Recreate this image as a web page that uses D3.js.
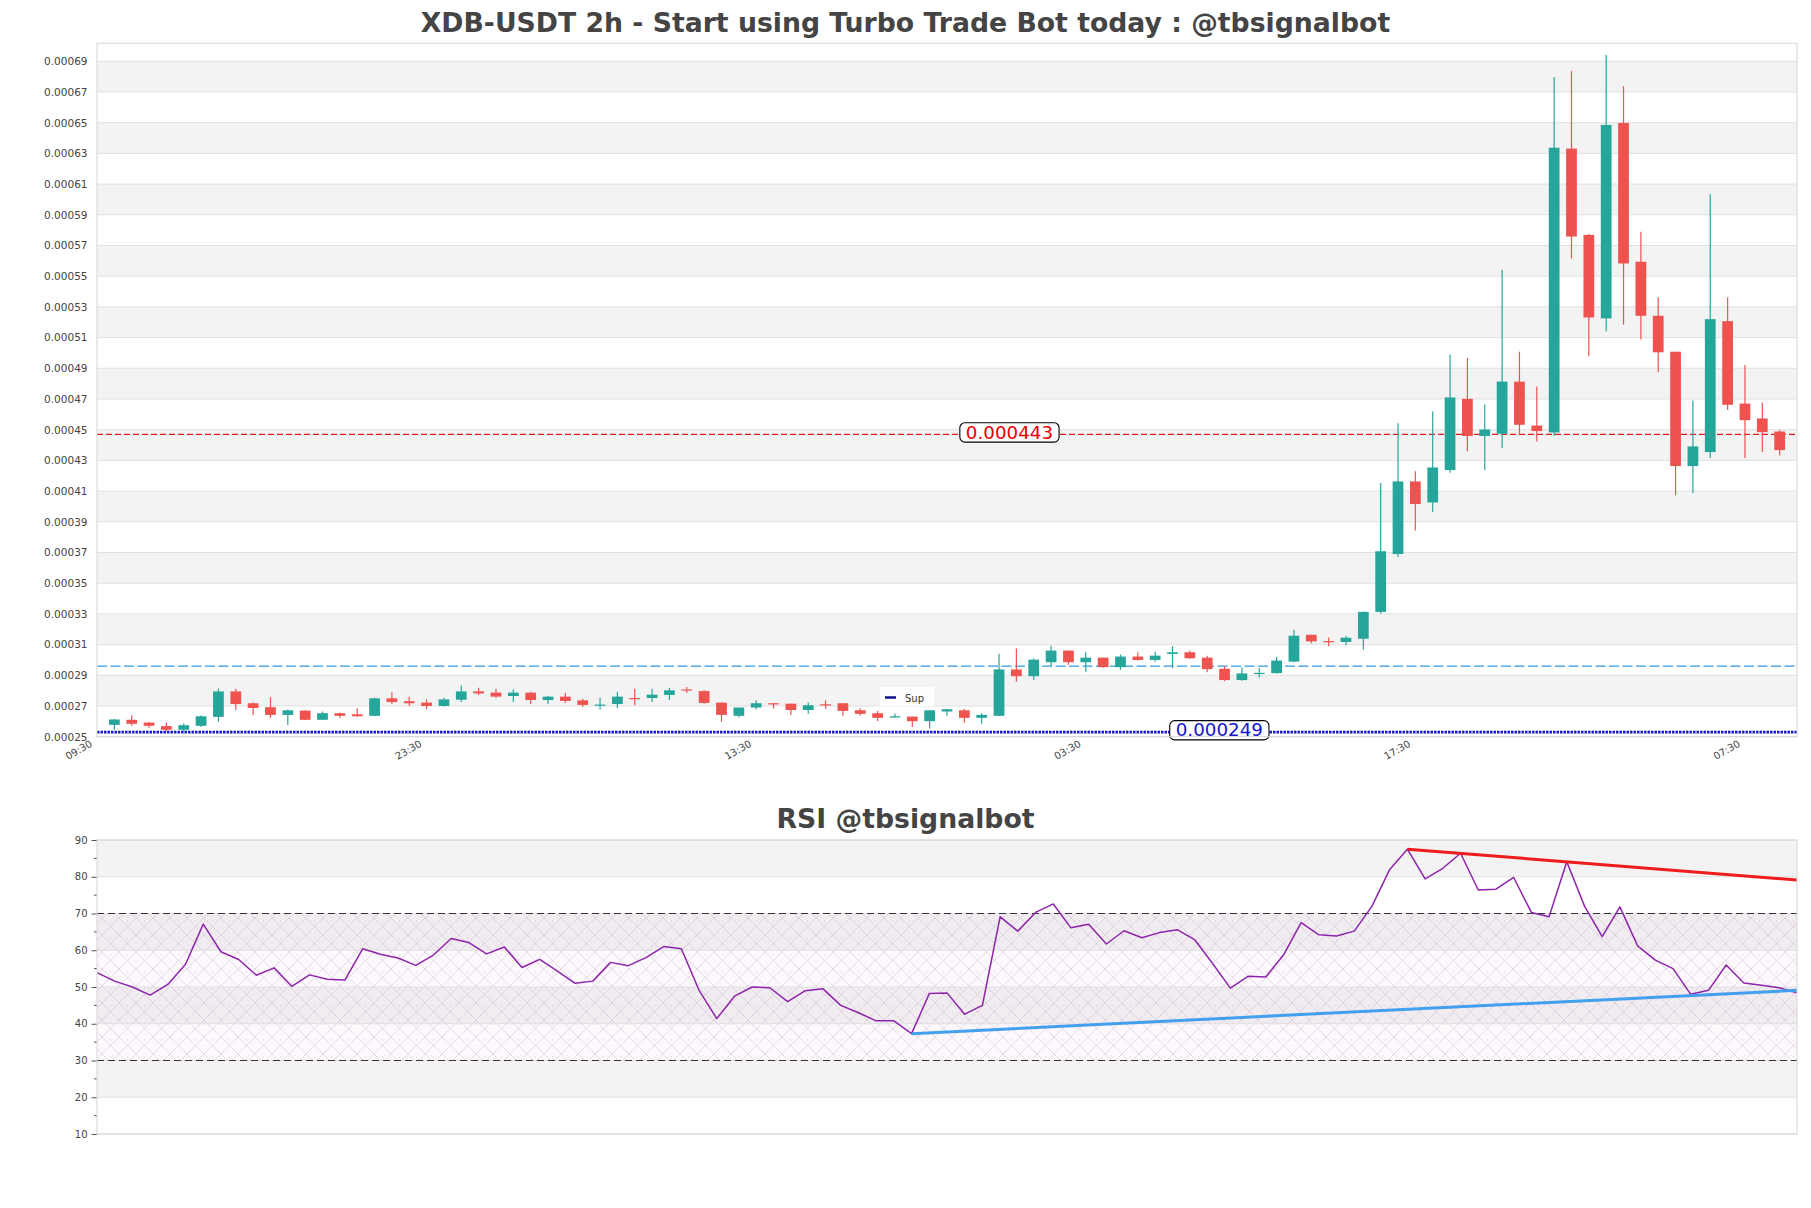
<!DOCTYPE html>
<html><head><meta charset="utf-8">
<script src="https://cdn.jsdelivr.net/npm/d3@7"></script>
<style>
body{margin:0;background:#fff;}
svg{display:block;font-family:"DejaVu Sans",sans-serif;}
</style></head><body>
<svg id="chart" width="1811" height="1208"></svg>
<script>
// ---------------- DATA ----------------
const chartTitle = "XDB-USDT 2h - Start using Turbo Trade Bot today : @tbsignalbot";
const rsiTitle = "RSI @tbsignalbot";
// x tick labels, one every 19 candles (38h), first one 1 candle before the first candle
const timeTickLabels = ["09:30","23:30","13:30","03:30","17:30","07:30"];

const opens = [253.7e-6,257.0e-6,255.2e-6,252.9e-6,250.5e-6,253.1e-6,258.9e-6,275.5e-6,267.8e-6,265.2e-6,
260.2e-6,263.0e-6,257.0e-6,261.3e-6,260.6e-6,259.6e-6,271.0e-6,269.1e-6,268.2e-6,266.0e-6,
270.1e-6,275.5e-6,274.7e-6,272.5e-6,274.7e-6,269.9e-6,272.1e-6,269.7e-6,266.5e-6,267.3e-6,
271.2e-6,271.2e-6,273.2e-6,276.8e-6,275.7e-6,268.2e-6,259.6e-6,265.0e-6,267.8e-6,267.5e-6,
263.4e-6,267.1e-6,267.8e-6,263.2e-6,261.3e-6,258.9e-6,259.1e-6,256.1e-6,262.4e-6,263.2e-6,
258.3e-6,259.6e-6,289.8e-6,285.4e-6,294.5e-6,302.1e-6,294.5e-6,297.5e-6,291.3e-6,298.2e-6,
296.0e-6,299.9e-6,301.0e-6,297.5e-6,290.2e-6,282.9e-6,287.2e-6,287.4e-6,294.9e-6,312.4e-6,
308.3e-6,307.7e-6,309.8e-6,327.3e-6,365.0e-6,412.3e-6,398.6e-6,419.7e-6,466.1e-6,441.9e-6,
443.3e-6,477.3e-6,448.7e-6,444.2e-6,629.1e-6,572.9e-6,518.5e-6,645.8e-6,555.4e-6,520.2e-6,
496.8e-6,422.3e-6,431.4e-6,516.7e-6,463.0e-6,453.3e-6,444.8e-6];
const highs = [257.6e-6,260.0e-6,255.6e-6,255.2e-6,254.6e-6,259.8e-6,277.3e-6,277.3e-6,268.2e-6,271.6e-6,
263.7e-6,263.2e-6,262.4e-6,261.7e-6,264.5e-6,271.4e-6,274.9e-6,272.1e-6,270.3e-6,271.4e-6,
279.4e-6,277.9e-6,277.3e-6,276.8e-6,275.1e-6,272.5e-6,274.7e-6,270.8e-6,271.4e-6,275.3e-6,
277.3e-6,277.3e-6,277.9e-6,278.3e-6,276.2e-6,268.2e-6,265.0e-6,269.7e-6,268.0e-6,267.5e-6,
268.2e-6,269.7e-6,267.8e-6,264.5e-6,262.8e-6,261.1e-6,259.1e-6,263.2e-6,263.9e-6,264.1e-6,
261.3e-6,300.1e-6,303.4e-6,296.9e-6,305.3e-6,302.1e-6,301.4e-6,297.5e-6,299.5e-6,301.0e-6,
301.4e-6,304.9e-6,302.1e-6,298.8e-6,291.9e-6,291.3e-6,290.8e-6,298.0e-6,315.6e-6,312.4e-6,
310.7e-6,311.8e-6,327.5e-6,411.3e-6,450.2e-6,419.0e-6,457.8e-6,494.9e-6,492.7e-6,462.4e-6,
550.2e-6,496.8e-6,474.1e-6,675.7e-6,679.6e-6,573.4e-6,690.0e-6,669.8e-6,574.9e-6,532.2e-6,
496.8e-6,465.0e-6,599.3e-6,532.2e-6,488.2e-6,463.7e-6,445.9e-6];
const lows = [250.5e-6,253.1e-6,251.8e-6,249.5e-6,249.2e-6,252.4e-6,255.7e-6,263.4e-6,260.2e-6,258.3e-6,
253.7e-6,256.8e-6,256.8e-6,258.3e-6,258.9e-6,259.4e-6,267.3e-6,266.0e-6,263.9e-6,265.6e-6,
268.6e-6,273.1e-6,271.6e-6,268.6e-6,267.3e-6,267.3e-6,268.0e-6,265.4e-6,263.7e-6,264.7e-6,
266.5e-6,268.6e-6,269.9e-6,274.4e-6,267.5e-6,255.7e-6,258.5e-6,263.7e-6,264.3e-6,260.2e-6,
260.9e-6,264.1e-6,259.6e-6,259.8e-6,256.3e-6,258.3e-6,252.4e-6,251.4e-6,259.6e-6,255.2e-6,
254.4e-6,259.6e-6,281.8e-6,282.9e-6,291.9e-6,292.8e-6,288.0e-6,290.9e-6,289.5e-6,295.6e-6,
294.9e-6,290.6e-6,296.7e-6,288.0e-6,282.2e-6,282.4e-6,284.6e-6,287.0e-6,294.5e-6,306.8e-6,
304.9e-6,305.5e-6,302.8e-6,326.2e-6,363.1e-6,380.4e-6,392.4e-6,418.0e-6,432.0e-6,419.7e-6,
434.0e-6,443.3e-6,438.3e-6,441.9e-6,557.5e-6,493.8e-6,510.0e-6,514.4e-6,504.8e-6,483.4e-6,
403.2e-6,404.7e-6,427.5e-6,458.9e-6,427.5e-6,431.4e-6,429.2e-6];
const closes = [257.2e-6,254.4e-6,253.1e-6,250.5e-6,253.5e-6,259.3e-6,275.5e-6,267.3e-6,264.7e-6,260.2e-6,
263.2e-6,257.0e-6,261.3e-6,259.6e-6,259.3e-6,271.0e-6,268.6e-6,267.8e-6,266.0e-6,270.3e-6,
275.5e-6,274.2e-6,272.1e-6,274.7e-6,269.9e-6,272.1e-6,269.3e-6,266.7e-6,266.9e-6,272.1e-6,
271.0e-6,273.4e-6,276.2e-6,276.2e-6,268.0e-6,260.2e-6,265.0e-6,267.8e-6,267.5e-6,263.4e-6,
266.5e-6,266.9e-6,262.8e-6,260.9e-6,258.3e-6,259.3e-6,256.1e-6,263.2e-6,263.9e-6,258.3e-6,
260.2e-6,289.8e-6,285.4e-6,296.2e-6,302.1e-6,294.5e-6,297.5e-6,291.3e-6,298.2e-6,296.0e-6,
298.8e-6,301.0e-6,297.1e-6,290.0e-6,282.9e-6,287.2e-6,287.6e-6,295.6e-6,311.8e-6,308.1e-6,
307.7e-6,310.5e-6,327.3e-6,366.8e-6,412.3e-6,397.6e-6,421.4e-6,467.0e-6,441.9e-6,446.1e-6,
477.3e-6,449.2e-6,445.1e-6,629.7e-6,571.8e-6,519.1e-6,644.5e-6,554.3e-6,520.2e-6,496.4e-6,
422.3e-6,435.1e-6,518.0e-6,462.2e-6,452.2e-6,444.4e-6,432.7e-6];

// price axis ticks (labels shown rounded to 5 decimals)
const priceTicks = [246e-6,266e-6,286e-6,306e-6,326e-6,346e-6,366e-6,386e-6,406e-6,426e-6,446e-6,466e-6,
486e-6,506e-6,526e-6,546e-6,566e-6,586e-6,606e-6,626e-6,646e-6,666e-6,686e-6];

// horizontal levels
const resistanceLevel = 0.000443;
const supportLevel = 0.000249;
const midLevel = 0.000292;

const rsiValues = [53.9,51.6,50.0,47.8,50.7,56.2,67.1,59.6,57.5,53.2,
55.2,50.2,53.3,52.1,51.9,60.4,58.9,57.9,55.9,58.7,
63.2,62.1,59.0,60.9,55.3,57.5,54.3,51.0,51.6,56.7,
55.8,58.0,61.0,60.4,49.1,41.4,47.5,50.0,49.8,46.0,
49.0,49.5,45.0,43.0,40.8,40.8,37.3,48.2,48.4,42.6,
45.0,69.1,65.2,70.3,72.6,66.1,67.1,61.7,65.3,63.4,
64.8,65.6,62.8,56.4,49.7,52.9,52.7,58.7,67.5,64.2,
63.9,65.2,72.0,82.0,87.5,79.4,82.3,86.4,76.4,76.6,
79.8,70.3,69.1,84.1,72.0,63.7,71.8,61.2,57.3,55.0,
48.0,49.1,56.0,51.1,50.5,49.8,48.4];
const rsiTicks = [10,20,30,40,50,60,70,80,90];
const rsiLevels = [30,70];
const rsiResistanceLine = [[74,87.5],[96,79.1]];
const rsiSupportLine = [[46,37.3],[96,49.1]];

// ---------------- DRAW ----------------
const svg = d3.select("#chart");
const N = closes.length;
const candles = d3.range(N).map(i => ({i, o:opens[i], h:highs[i], l:lows[i], c:closes[i]}));

const M = {l:97, r:1797, t:43.3, b:736.7};
const x = d3.scaleLinear().domain([-1, N]).range([M.l, M.r]);
const y = d3.scaleLinear().domain([246e-6, 697.7e-6]).range([M.b, M.t]);

const BAND = "#f3f3f3", GRID = "#e0e0e0", BORDER = "#d6d6d6", TXT = "#444";
const UP = "#26a69a", DOWN = "#ef5350";

// title
svg.append("text").attr("x", 905.5).attr("y", 31.5).attr("text-anchor","middle")
  .attr("font-size", 26.7).attr("font-weight","bold").attr("fill", TXT).text(chartTitle);

const gMain = svg.append("g");
// alternating bands
for (let k = 0; k < priceTicks.length - 1; k++) {
  if (k % 2 === 1) {
    gMain.append("rect").attr("x", M.l).attr("width", M.r - M.l)
      .attr("y", y(priceTicks[k+1])).attr("height", y(priceTicks[k]) - y(priceTicks[k+1]))
      .attr("fill", BAND);
  }
}
// grid
gMain.selectAll(".grid").data(priceTicks).join("line")
  .attr("x1", M.l).attr("x2", M.r).attr("y1", d => y(d)).attr("y2", d => y(d))
  .attr("stroke", GRID).attr("stroke-width", 1);

// y axis labels
const yAxis = d3.axisLeft(y).tickValues(priceTicks).tickFormat(d => d.toFixed(5)).tickSize(0).tickPadding(9.5);
const gy = svg.append("g").attr("transform", `translate(${M.l},0)`).call(yAxis);
gy.select(".domain").remove();
gy.selectAll("text").attr("font-size", 10.5).attr("fill", TXT).attr("font-family","DejaVu Sans");

// x tick labels
const xTickIdx = timeTickLabels.map((_, k) => -1 + 19 * k);
svg.append("g").selectAll("text").data(timeTickLabels).join("text")
  .attr("transform", (d, k) => `translate(${x(xTickIdx[k]) - 4},${M.b + 9}) rotate(-30)`)
  .attr("text-anchor", "end").attr("font-size", 10).attr("fill", TXT).text(d => d);

// level lines
gMain.append("line").attr("x1", M.l).attr("x2", M.r).attr("y1", y(midLevel)).attr("y2", y(midLevel))
  .attr("stroke", "#2f9be3").attr("stroke-width", 1.3).attr("stroke-dasharray", "10,3.5");
gMain.append("line").attr("x1", M.l).attr("x2", M.r).attr("y1", y(resistanceLevel)).attr("y2", y(resistanceLevel))
  .attr("stroke", "#e31a1c").attr("stroke-width", 1.3).attr("stroke-dasharray", "6,3");
gMain.append("line").attr("x1", M.l).attr("x2", M.r).attr("y1", y(supportLevel)).attr("y2", y(supportLevel))
  .attr("stroke", "#1a1acc").attr("stroke-width", 2.6).attr("stroke-dasharray", "2.5,1");

// candles
const bw = (x(1) - x(0)) * 0.62;
const gC = svg.append("g");
gC.selectAll(".wick").data(candles).join("line")
  .attr("x1", d => x(d.i)).attr("x2", d => x(d.i))
  .attr("y1", d => y(d.h)).attr("y2", d => y(d.l))
  .attr("stroke", d => d.c >= d.o ? UP : DOWN).attr("stroke-width", 1.2);
gC.selectAll(".body").data(candles).join("rect")
  .attr("x", d => x(d.i) - bw/2).attr("width", bw)
  .attr("y", d => y(Math.max(d.o, d.c)))
  .attr("height", d => Math.max(1.2, Math.abs(y(d.o) - y(d.c))))
  .attr("fill", d => d.c >= d.o ? UP : DOWN);

// level label boxes
function levelLabel(val, idx, color) {
  const g = svg.append("g");
  const t = g.append("text").attr("x", x(idx)).attr("y", y(val) + 4.3)
    .attr("text-anchor","middle").attr("font-size", 18.3).attr("fill", color)
    .text(val.toFixed(6));
  const bb = t.node().getBBox();
  g.insert("rect", "text").attr("x", bb.x - 6).attr("y", y(val) - 11.5).attr("width", bb.width + 12).attr("height", 19.3)
    .attr("rx", 5).attr("fill", "#fff").attr("stroke", "#000").attr("stroke-width", 1.1);
}
levelLabel(resistanceLevel, 51.6, "#e60000");
levelLabel(supportLevel, 63.7, "#1515cc");

// legend
const lg = svg.append("g");
lg.append("rect").attr("x", 880).attr("y", 687).attr("width", 54).attr("height", 19).attr("fill", "#fff").attr("fill-opacity", 0.9);
lg.append("line").attr("x1", 885).attr("x2", 896).attr("y1", 697.5).attr("y2", 697.5).attr("stroke", "#10108c").attr("stroke-width", 2.5);
lg.append("text").attr("x", 905).attr("y", 701.5).attr("font-size", 10).attr("fill", "#333").text("Sup");

// border
svg.append("rect").attr("x", M.l).attr("y", M.t).attr("width", M.r - M.l).attr("height", M.b - M.t)
  .attr("fill", "none").attr("stroke", BORDER);

// ---------------- RSI ----------------
const R = {l:97, r:1797, t:840, b:1134};
const xr = d3.scaleLinear().domain([0, N - 1]).range([R.l, R.r]);
const yr = d3.scaleLinear().domain([10, 90]).range([R.b, R.t]);

svg.append("text").attr("x", 905.5).attr("y", 828.3).attr("text-anchor","middle")
  .attr("font-size", 26.7).attr("font-weight","bold").attr("fill", TXT).text(rsiTitle);

const defs = svg.append("defs");
const pat = defs.append("pattern").attr("id","hatch").attr("patternUnits","userSpaceOnUse")
  .attr("width", 17).attr("height", 17);
pat.append("rect").attr("width",17).attr("height",17).attr("fill","#a040b0").attr("fill-opacity",0.035);
pat.append("path").attr("d","M0,0L17,17M17,0L0,17M-1,16L1,18M16,-1L18,1")
  .attr("stroke","#b89cc4").attr("stroke-width",0.6).attr("stroke-opacity",0.55);
pat.append("circle").attr("cx",8.5).attr("cy",3).attr("r",0.5).attr("fill","#c8b0d0");

const gR = svg.append("g");
[[80,90],[60,70],[40,50],[20,30]].forEach(([a,b]) => {
  gR.append("rect").attr("x", R.l).attr("width", R.r - R.l).attr("y", yr(b)).attr("height", yr(a) - yr(b)).attr("fill", BAND);
});
gR.append("rect").attr("x", R.l).attr("width", R.r - R.l).attr("y", yr(70)).attr("height", yr(30) - yr(70)).attr("fill", "url(#hatch)");
gR.selectAll(".g").data(rsiTicks).join("line")
  .attr("x1", R.l).attr("x2", R.r).attr("y1", d => yr(d)).attr("y2", d => yr(d))
  .attr("stroke", GRID);
gR.selectAll(".lv").data(rsiLevels).join("line")
  .attr("x1", R.l).attr("x2", R.r).attr("y1", d => yr(d)).attr("y2", d => yr(d))
  .attr("stroke", "#333").attr("stroke-width", 1.2).attr("stroke-dasharray", "7,4");

// rsi axis
const ryAxis = d3.axisLeft(yr).tickValues(rsiTicks).tickSize(5.5).tickPadding(4);
const gry = svg.append("g").attr("transform", `translate(${R.l},0)`).call(ryAxis);
gry.select(".domain").remove();
gry.selectAll("line").attr("stroke", "#555");
gry.selectAll("text").attr("font-size", 10).attr("fill", TXT).attr("font-family","DejaVu Sans");
const minor = d3.range(15, 90, 10);
svg.append("g").selectAll("line").data(minor).join("line")
  .attr("x1", R.l - 3).attr("x2", R.l).attr("y1", d => yr(d)).attr("y2", d => yr(d)).attr("stroke", "#555");

// rsi line
const line = d3.line().x((d, i) => xr(i)).y(d => yr(d));
gR.append("path").datum(rsiValues).attr("d", line).attr("fill","none")
  .attr("stroke", "#8e24aa").attr("stroke-width", 1.5).attr("stroke-linejoin","round");

const tl = d3.line().x(d => xr(d[0])).y(d => yr(d[1]));
gR.append("path").datum(rsiResistanceLine).attr("d", tl).attr("stroke", "#ee1c1c").attr("stroke-width", 3).attr("fill","none");
gR.append("path").datum(rsiSupportLine).attr("d", tl).attr("stroke", "#42a0ee").attr("stroke-width", 3).attr("fill","none");

svg.append("rect").attr("x", R.l).attr("y", R.t).attr("width", R.r - R.l).attr("height", R.b - R.t)
  .attr("fill", "none").attr("stroke", BORDER);
</script>
</body></html>
